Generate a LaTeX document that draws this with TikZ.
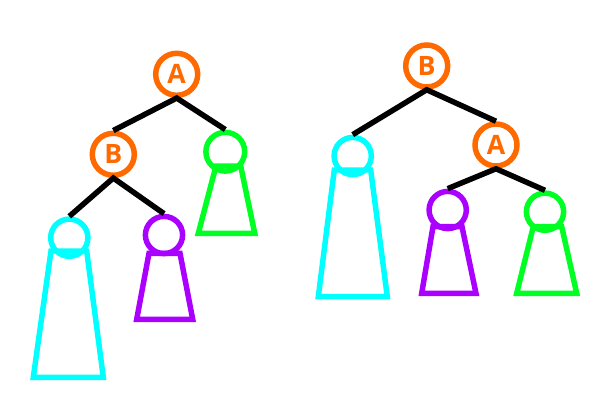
\documentclass[tikz,border=0pt]{standalone}
\usepackage{fontspec}
\newfontfamily\keyfont{Open Sans}
\usepackage{tikz}
\definecolor{keyorange}{HTML}{FF6A00}
\definecolor{subcyan}{HTML}{00FFFF}
\definecolor{subpurple}{HTML}{AA00FF}
\definecolor{subgreen}{HTML}{00FF22}

\begin{document}
\begin{tikzpicture}[x=0.025cm,y=-0.025cm,line width=3.9pt,
 key/.style={circle,draw=keyorange,text=keyorange,inner sep=0pt,minimum size=1.05cm,
  font=\keyfont\bfseries\fontsize{19}{21}\selectfont},
 root/.style={circle,draw,inner sep=0pt,minimum size=0.93cm},
 link/.style={draw=black}]
 \useasboundingbox (0,0) rectangle (600,400);
 \draw[subcyan] (51,251)--(86.7,251)--(103.3,377.3)--(33.3,377.3)--cycle;
 \draw[subpurple] (149,253.3)--(180,253.3)--(192.7,319.3)--(136.7,319.3)--cycle;
 \draw[subgreen] (216,166)--(240.7,166)--(254.7,233.3)--(198.3,233.3)--cycle;
 \node[key] (lA) at (176.7,74.3){A};
 \node[key] (lB) at (113.3,154.3){B};
 \node[root,subgreen,minimum size=0.97cm] (lg) at (225.3,151.7){};
 \node[root,subcyan] (lc) at (69.3,237.7){};
 \node[root,subpurple] (lp) at (164,235){};
 \draw[link] (lB.north)--(lA.south)--(lg.north);
 \draw[link] (lc.north)--(lB.south)--(lp.north);
 \draw[subcyan] (334.3,170)--(370.7,170)--(387.3,296.7)--(318.3,296.7)--cycle;
 \draw[subpurple] (433,226.7)--(462,226.7)--(476,293.3)--(421.7,293.3)--cycle;
 \draw[subgreen] (533.3,226.7)--(561.7,226.7)--(576.7,293.3)--(516.7,293.3)--cycle;
 \node[key] (rB) at (426.7,66){B};
 \node[key] (rA) at (496,145){A};
 \node[root,subcyan] (rc) at (352.7,156){};
 \node[root,subpurple] (rp) at (447.7,210){};
 \node[root,subgreen] (rg) at (545,211.7){};
 \draw[link] (rc.north)--(rB.south)--(rA.north);
 \draw[link] (rp.north)--(rA.south)--(rg.north);
\end{tikzpicture}
\end{document}
